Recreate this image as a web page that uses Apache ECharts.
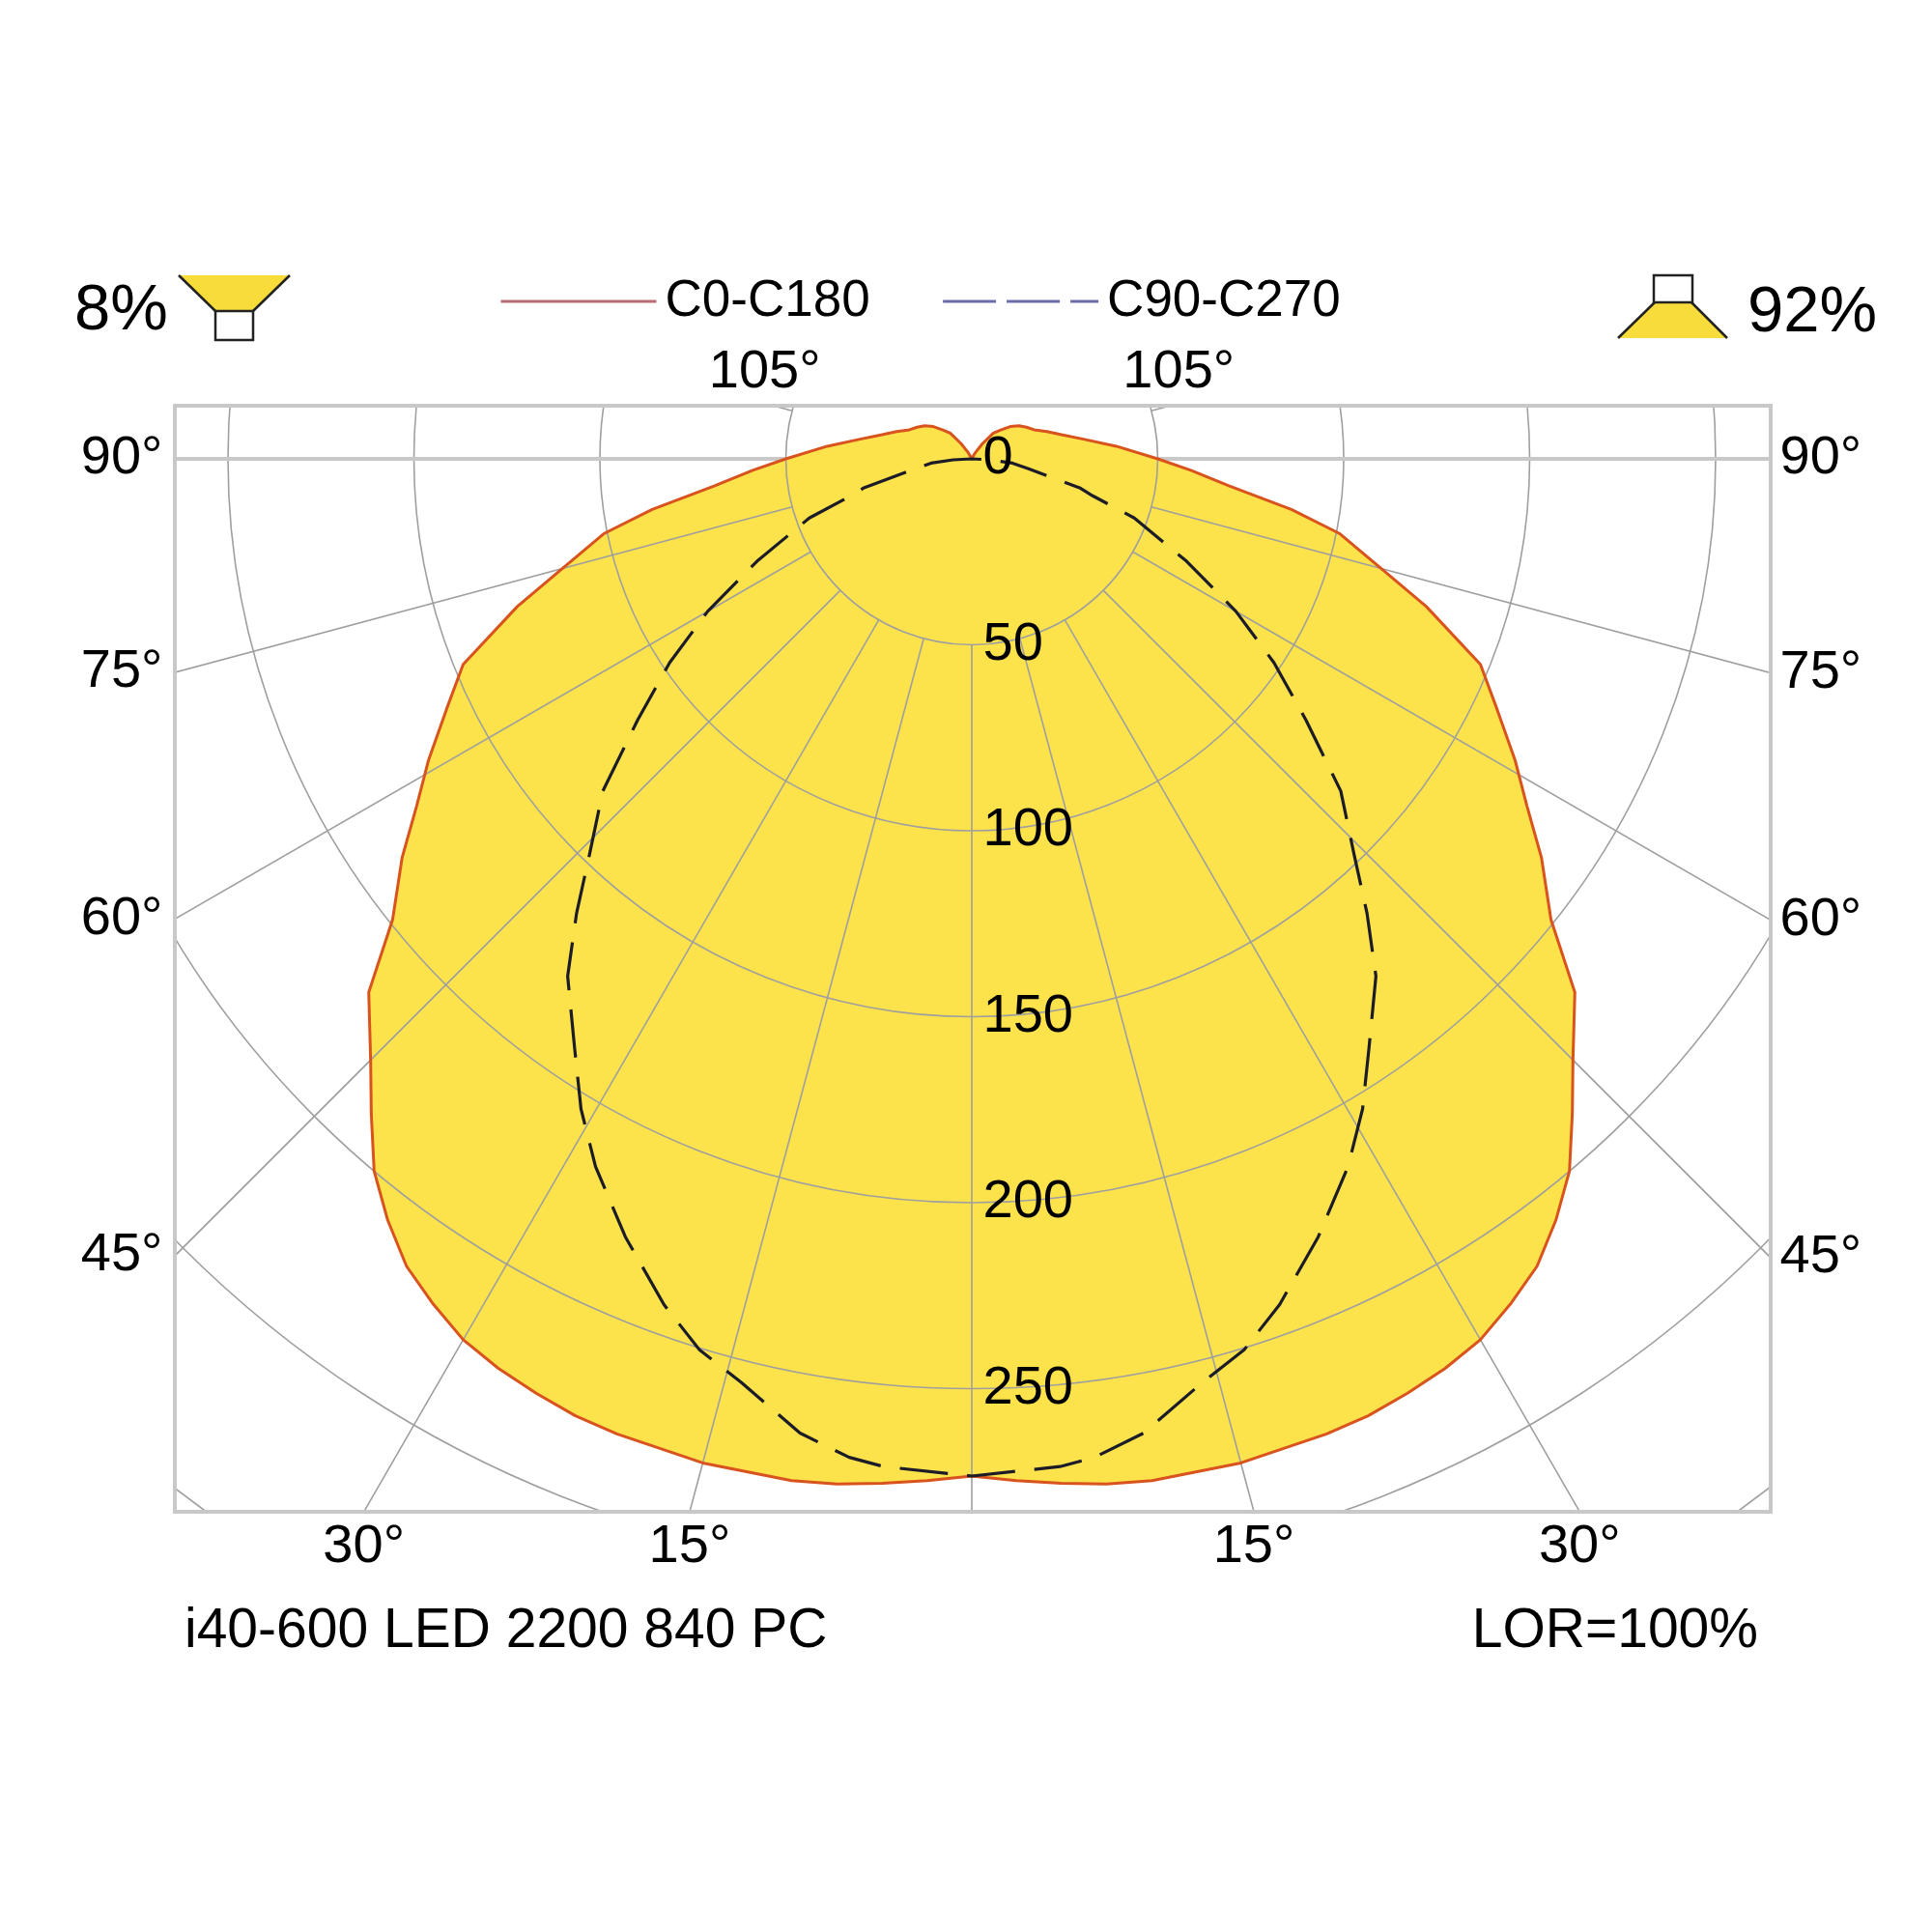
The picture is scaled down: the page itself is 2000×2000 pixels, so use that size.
<!DOCTYPE html>
<html>
<head>
<meta charset="utf-8">
<title>i40-600 LED 2200 840 PC</title>
<script src="https://cdn.jsdelivr.net/npm/echarts@6/dist/echarts.min.js"></script>
<style>
  html, body { margin: 0; padding: 0; background: #fff; }
  #chart { width: 2000px; height: 2000px; }
</style>
</head>
<body>
<div id="chart"></div>
<script>
// intensity (cd/klm) against gamma (deg from nadir), both halves of each plane
var c0Gamma = [0, 2.5, 5, 7.5, 10, 15, 20, 22.5, 25, 27.5, 30, 32.5, 35, 37.5, 40, 42.5, 45, 48.5, 51.5, 55, 58, 61, 64.5, 68, 72, 75, 78.5, 81, 84, 87, 90, 95, 100, 105, 110, 115, 120, 125, 130, 135, 140, 145, 150, 155, 160, 170, 180];
var c0Value = [273.5, 275, 276.5, 278, 279, 279.5, 279, 278.5, 277.2, 275.7, 273.5, 269.5, 265, 258, 250, 239, 228.6, 216.5, 199, 187, 176, 167, 156.5, 147.5, 128.5, 114, 101, 87, 69.5, 59, 50, 39, 30.5, 25, 21.5, 18.5, 17, 15.5, 13.5, 11, 9, 5, 2, 0.5, 0, 0, 0];

var c90Gamma = [0, 5, 7, 10, 14, 17, 20, 24, 28, 31, 34, 38, 41, 44, 48, 52, 56, 60, 64.5, 70, 73, 75, 80, 84, 87, 90];
var c90Value = [273.5, 272, 270.5, 266, 256, 250.5, 242, 229, 215.5, 204, 191, 176.5, 162, 148, 133.5, 114, 98, 82, 64, 46.5, 34, 30, 15.5, 11, 5, 0];

var radiusTicks = [0, 50, 100, 150, 200, 250];
var sideTicks = [45, 60, 75, 90];
var bottomTicks = [15, 30];
var topTicks = [105];

var downRatio = '8%';
var upRatio = '92%';
var lampName = 'i40-600 LED 2200 840 PC';
var lorText = 'LOR=100%';

// layout
var CENTER = [1006, 475];
var PX_PER_CD = 3.85;
var R_MAX = 400;
var FRAME = { left: 181, top: 420, right: 1833, bottom: 1565 };
var FONT = '"Liberation Sans", Arial, Helvetica, sans-serif';
var YELLOW = '#fde34b';
var GRID = '#9f9f9f';
var INK = '#000';

// left half uses angle = gamma, right half angle = 360 - gamma
function closedCurve(gammas, values) {
  var pts = [];
  for (var i = gammas.length - 1; i >= 0; i--) pts.push([values[i], gammas[i]]);
  for (var j = 0; j < gammas.length; j++) pts.push([values[j], 360 - gammas[j]]);
  return pts;
}

var c0Data = closedCurve(c0Gamma, c0Value);
var c90Data = closedCurve(c90Gamma, c90Value);

// angle labels sit where each ray meets the frame
var rad = Math.PI / 180;
var toLeft = (CENTER[0] - FRAME.left) / PX_PER_CD;
var toRight = (FRAME.right - CENTER[0]) / PX_PER_CD;
var toBottom = (FRAME.bottom - CENTER[1]) / PX_PER_CD;
var toTop = (CENTER[1] - FRAME.top) / PX_PER_CD;

var angleLabels = [];
sideTicks.forEach(function (g) {
  angleLabels.push({ name: g + '°', value: [toLeft / Math.sin(g * rad), g], label: { position: 'left', distance: 12 } });
  angleLabels.push({ name: g + '°', value: [toRight / Math.sin(g * rad), 360 - g], label: { position: 'right', distance: 9 } });
});
bottomTicks.forEach(function (g) {
  angleLabels.push({ name: g + '°', value: [toBottom / Math.cos(g * rad), g], label: { position: 'bottom', distance: 8 } });
  angleLabels.push({ name: g + '°', value: [toBottom / Math.cos(g * rad), 360 - g], label: { position: 'bottom', distance: 8 } });
});
topTicks.forEach(function (g) {
  var r = toTop / Math.cos((180 - g) * rad);
  angleLabels.push({ name: g + '°', value: [r, g], label: { position: 'top', distance: 6, offset: [-9, 0] } });
  angleLabels.push({ name: g + '°', value: [r, 360 - g], label: { position: 'top', distance: 6, offset: [9, 0] } });
});

var radiusLabels = radiusTicks.map(function (v) { return { name: String(v), value: [v, 0] }; });

var hiddenAxis = { axisLine: { show: false }, axisTick: { show: false }, axisLabel: { show: false }, splitLine: { show: false } };
var labelOnly = { color: 'rgba(0,0,0,0)', opacity: 1 };

var chart = echarts.init(document.getElementById('chart'));

chart.setOption({
  animation: false,
  backgroundColor: '#fff',
  polar: [
    { center: CENTER, radius: R_MAX * PX_PER_CD },
    { center: CENTER, radius: [50 * PX_PER_CD, R_MAX * PX_PER_CD] }
  ],
  angleAxis: [
    Object.assign({ polarIndex: 0, type: 'value', min: 0, max: 360, interval: 15, startAngle: 270, clockwise: true }, hiddenAxis),
    {
      polarIndex: 1, type: 'value', min: 0, max: 360, interval: 15, startAngle: 270, clockwise: true, z: 3,
      axisLine: { show: false }, axisTick: { show: false }, axisLabel: { show: false },
      splitLine: { show: true, lineStyle: { color: GRID, width: 1.6 } }
    }
  ],
  radiusAxis: [
    Object.assign({ polarIndex: 0, type: 'value', min: 0, max: R_MAX }, hiddenAxis),
    {
      polarIndex: 1, type: 'value', min: 50, max: R_MAX, interval: 50, z: 3,
      axisLine: { show: false }, axisTick: { show: false }, axisLabel: { show: false },
      splitLine: { show: true, lineStyle: { color: GRID, width: 1.6 } }
    }
  ],
  legend: {
    left: 517, top: 284, z: 20, padding: 0,
    itemWidth: 161, itemHeight: 20, itemGap: 74,
    selectedMode: false,
    textStyle: { fontSize: 53, fontFamily: FONT, color: INK, lineHeight: 56, padding: [0, 0, 0, 4] },
    data: [
      { name: 'C0-C180', itemStyle: { opacity: 0 }, lineStyle: { color: '#b86c6f', width: 3, type: 'solid' } },
      { name: 'C90-C270', itemStyle: { opacity: 0 }, lineStyle: { color: '#6c6caa', width: 3, type: [55, 11] } }
    ]
  },
  series: [
    {
      name: 'fill', type: 'line', coordinateSystem: 'polar', polarIndex: 0, z: 1,
      data: c0Data, symbol: 'none', silent: true,
      lineStyle: { width: 0, opacity: 0 },
      areaStyle: { color: YELLOW, opacity: 1 }
    },
    {
      name: 'horizon-left', type: 'line', coordinateSystem: 'polar', polarIndex: 1, z: 3, symbol: 'none', silent: true,
      data: [[50, 90], [R_MAX, 90]], lineStyle: { color: '#c8c8c8', width: 4 }
    },
    {
      name: 'horizon-right', type: 'line', coordinateSystem: 'polar', polarIndex: 1, z: 3, symbol: 'none', silent: true,
      data: [[50, 270], [R_MAX, 270]], lineStyle: { color: '#c8c8c8', width: 4 }
    },
    {
      name: 'C0-C180', type: 'line', coordinateSystem: 'polar', polarIndex: 0, z: 5,
      data: c0Data, symbol: 'none',
      lineStyle: { color: '#d9531e', width: 3 }
    },
    {
      name: 'C90-C270', type: 'line', coordinateSystem: 'polar', polarIndex: 0, z: 6,
      data: c90Data, symbol: 'none',
      lineStyle: { color: '#1c1c28', width: 3.2, type: [50, 20] }
    },
    {
      name: 'radius-labels', type: 'scatter', coordinateSystem: 'polar', polarIndex: 0, z: 15, silent: true,
      data: radiusLabels, symbolSize: 1, itemStyle: labelOnly,
      label: { show: true, position: 'right', distance: 11, formatter: '{b}', fontSize: 56, fontFamily: FONT, color: INK, opacity: 1 }
    },
    {
      name: 'angle-labels', type: 'scatter', coordinateSystem: 'polar', polarIndex: 0, z: 15, silent: true,
      data: angleLabels, symbolSize: 1, itemStyle: labelOnly,
      label: { show: true, formatter: '{b}', fontSize: 56, fontFamily: FONT, color: INK, opacity: 1 }
    }
  ],
  graphic: [
    // white masks clip the polar grid to the frame
    { type: 'rect', z: 10, silent: true, shape: { x: 0, y: 0, width: 2000, height: FRAME.top }, style: { fill: '#fff' } },
    { type: 'rect', z: 10, silent: true, shape: { x: 0, y: FRAME.bottom, width: 2000, height: 2000 - FRAME.bottom }, style: { fill: '#fff' } },
    { type: 'rect', z: 10, silent: true, shape: { x: 0, y: 0, width: FRAME.left, height: 2000 }, style: { fill: '#fff' } },
    { type: 'rect', z: 10, silent: true, shape: { x: FRAME.right, y: 0, width: 2000 - FRAME.right, height: 2000 }, style: { fill: '#fff' } },
    {
      type: 'rect', z: 11, silent: true,
      shape: { x: FRAME.left, y: FRAME.top, width: FRAME.right - FRAME.left, height: FRAME.bottom - FRAME.top },
      style: { fill: 'none', stroke: '#c8c8c8', lineWidth: 4 }
    },

    // downward / upward ratio icons
    { type: 'text', z: 20, style: { text: downRatio, x: 77, y: 323, fontSize: 67, fontFamily: FONT, fill: INK, align: 'left', verticalAlign: 'middle' } },
    { type: 'polygon', z: 20, shape: { points: [[185, 285], [300, 285], [262, 322], [223, 322]] }, style: { fill: '#f7dc3a' } },
    { type: 'polyline', z: 21, shape: { points: [[185, 285], [223, 322]] }, style: { stroke: '#222', lineWidth: 2.5, fill: 'none' } },
    { type: 'polyline', z: 21, shape: { points: [[300, 285], [262, 322]] }, style: { stroke: '#222', lineWidth: 2.5, fill: 'none' } },
    { type: 'rect', z: 21, shape: { x: 223, y: 322, width: 39, height: 30 }, style: { fill: '#fff', stroke: '#222', lineWidth: 2.5 } },

    { type: 'text', z: 20, style: { text: upRatio, x: 1809, y: 325, fontSize: 67, fontFamily: FONT, fill: INK, align: 'left', verticalAlign: 'middle' } },
    { type: 'polygon', z: 20, shape: { points: [[1713, 313], [1751, 313], [1788, 350], [1675, 350]] }, style: { fill: '#f7dc3a' } },
    { type: 'polyline', z: 21, shape: { points: [[1713, 313], [1675, 350]] }, style: { stroke: '#222', lineWidth: 2.5, fill: 'none' } },
    { type: 'polyline', z: 21, shape: { points: [[1751, 313], [1788, 350]] }, style: { stroke: '#222', lineWidth: 2.5, fill: 'none' } },
    { type: 'rect', z: 21, shape: { x: 1712, y: 285, width: 40, height: 28 }, style: { fill: '#fff', stroke: '#222', lineWidth: 2.5 } },

    // footer
    { type: 'text', z: 20, style: { text: lampName, x: 191, y: 1689, fontSize: 57, fontFamily: FONT, fill: INK, align: 'left', verticalAlign: 'middle' } },
    { type: 'text', z: 20, style: { text: lorText, x: 1820, y: 1689, fontSize: 57, fontFamily: FONT, fill: INK, align: 'right', verticalAlign: 'middle' } }
  ]
});
</script>
</body>
</html>
